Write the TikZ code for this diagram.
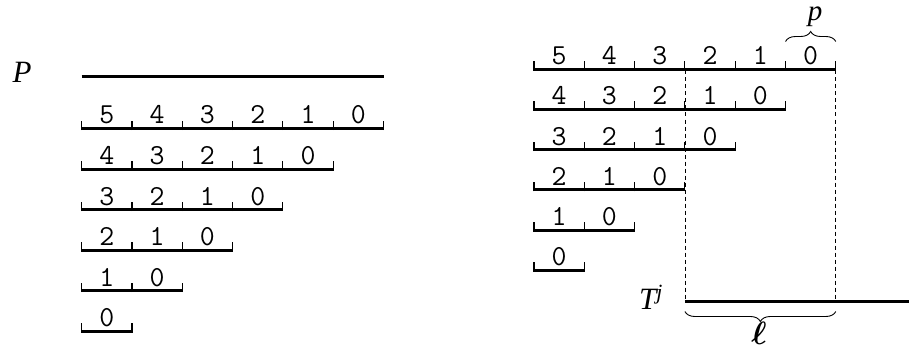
\documentclass[tikz,border=0pt]{standalone}
\usepackage{fontspec}
\usepackage{bm}
\setmainfont{Liberation Serif}
\usetikzlibrary{decorations.pathreplacing}
\begin{document}
\begin{tikzpicture}[x=1pt,y=-1pt,
  rowline/.style={line width=3pt},
  tickmark/.style={line width=1.1pt},
  digit/.style={font=\ttfamily\fontsize{29}{29}\selectfont, anchor=base, inner sep=0pt},
  ital/.style={font=\fontsize{31}{31}\selectfont\itshape, anchor=base, inner sep=0pt},
  guide/.style={line width=0.8pt, dash pattern=on 4pt off 3pt},
  brc/.style={decorate, decoration={brace, amplitude=10pt}, line width=0.9pt}]
\useasboundingbox (0,0) rectangle (909,350);
% left block
\node[ital] (P) at (22,83) {P};
\coordinate (PL) at (81.7,77);
\coordinate (PR) at (383.5,77);
\draw[rowline] (PL) -- (PR);
\foreach \k in {0,...,5}{
  \pgfmathtruncatemacro\n{6-\k}
  \pgfmathsetmacro\yy{128.5+40.5*\k}
  \draw[rowline] (81.7,\yy) -- ++(\n*50.3,0);
  \foreach \i in {0,...,\n} \draw[tickmark] (81.7+\i*50.3,\yy+1.5) -- ++(0,-9.5);
  \pgfmathtruncatemacro\nm{\n-1}
  \foreach \i in {0,...,\nm}{
    \pgfmathtruncatemacro\d{\n-1-\i}
    \node[digit] (L\k-\i) at (81.7+\i*50.3+25.15,\yy-4.5) {\d};
  }
}
% right block
\foreach \k in {0,...,5}{
  \pgfmathtruncatemacro\n{6-\k}
  \pgfmathsetmacro\yy{69.3+40.2*\k}
  \draw[rowline] (534,\yy) -- ++(\n*50.3,0);
  \foreach \i in {0,...,\n} \draw[tickmark] (534+\i*50.3,\yy+1.5) -- ++(0,-9.5);
  \pgfmathtruncatemacro\nm{\n-1}
  \foreach \i in {0,...,\nm}{
    \pgfmathtruncatemacro\d{\n-1-\i}
    \node[digit] (R\k-\i) at (534+\i*50.3+25.15,\yy-4.5) {\d};
  }
}
\coordinate (DA1) at (684.9,70.5);
\coordinate (DB1) at (835.8,70.5);
\coordinate (DA2) at (684.9,301.7);
\coordinate (DB2) at (835.8,301.7);
\coordinate (TE) at (909,301.7);
\draw[guide] (DA1) -- (DA2);
\draw[guide] (DB1) -- (DB2);
\draw[rowline] (DA2) -- (TE);
\node[ital] (T) at (651,309) {T\textsuperscript{j}};
% braces
\coordinate (pb1) at (785.5,41.5);
\coordinate (pb2) at (835.8,41.5);
\draw[brc] (pb1) -- (pb2);
\node[ital, font=\fontsize{29}{29}\selectfont\itshape] (p) at (815,21) {p};
\coordinate (lb1) at (835.8,311.5);
\coordinate (lb2) at (684.9,311.5);
\draw[brc] (lb1) -- (lb2);
\node[font=\fontsize{24}{24}\selectfont, anchor=base, inner sep=0pt] (ell) at (759,344) {\scalebox{1.3}{$\bm{\ell}$}};
\end{tikzpicture}
\end{document}
